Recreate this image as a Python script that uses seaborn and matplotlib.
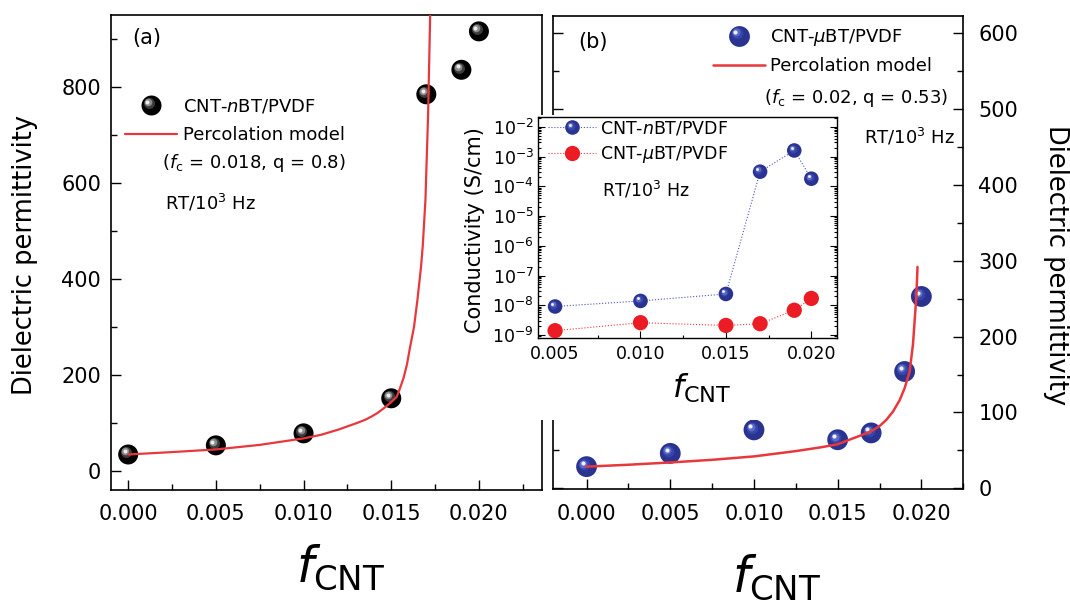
import numpy as np
import matplotlib
matplotlib.use('Agg')
import matplotlib.pyplot as plt
import matplotlib.transforms as mtransforms
from matplotlib.lines import Line2D
from matplotlib.legend_handler import HandlerTuple, HandlerLine2D
from matplotlib.patches import Rectangle
from matplotlib.ticker import MultipleLocator, LogLocator, NullFormatter
import seaborn as sns

# (a) CNT-nBT/PVDF, dielectric permittivity at RT / 1 kHz
f_nbt = [0.000, 0.005, 0.010, 0.015, 0.017, 0.019, 0.020]
eps_nbt = [34, 53, 78, 151, 784, 835, 915]
# percolation model curve
fit_a_f = [0.000, 0.0025, 0.005, 0.0075, 0.010, 0.011, 0.012, 0.013, 0.0135, 0.01385,
           0.0142, 0.0146, 0.0150, 0.01531, 0.0155, 0.0157, 0.0159, 0.01604, 0.0163,
           0.01649, 0.0167, 0.0168, 0.01695, 0.0171, 0.01722]
fit_a_eps = [34, 39, 44.5, 54, 67.5, 75, 86, 99, 106, 112.5,
             120, 131, 143, 154, 172, 193, 222, 251, 300,
             355, 425, 470, 564, 740, 949]

# (b) CNT-uBT/PVDF
f_ubt = [0.000, 0.005, 0.010, 0.015, 0.017, 0.019, 0.020]
eps_ubt = [28.5, 46, 77, 64, 73, 154, 253]
fit_b_f = [0.000, 0.0025, 0.005, 0.0075, 0.010, 0.0125, 0.014, 0.015, 0.0157, 0.0163,
           0.0170, 0.0175, 0.0179, 0.0183, 0.0187, 0.0190, 0.0193, 0.0195, 0.0197, 0.01977]
fit_b_eps = [28.5, 31, 34, 37.5, 42, 49, 54, 58, 64, 69,
             75, 82, 90, 101, 116, 132, 154, 190, 253, 292]

# inset: conductivity (S/cm)
f_cond = [0.005, 0.010, 0.015, 0.017, 0.019, 0.020]
sigma_nbt = [9.1e-9, 1.4e-8, 2.4e-8, 3.1e-4, 1.6e-3, 1.8e-4]
sigma_ubt = [1.4e-9, 2.6e-9, 2.1e-9, 2.4e-9, 6.8e-9, 1.7e-8]

RED = '#e8383d'
BLUE = '#2a3490'
BLACK_SPHERE = ['#000000', '#3c3c3c', '#8a8a8a', '#ececec']
BLUE_SPHERE = [BLUE, '#3645a8', '#5c6ac8', '#eef0ff']
# highlight layers: (size fraction, up-left shift fraction)
SHADE = [(0.55, 0.11), (0.38, 0.15), (0.2, 0.18)]

sns.set_style('ticks')
plt.rcParams['font.family'] = ['DejaVu Sans']
plt.rcParams['mathtext.fontset'] = 'dejavusans'
plt.rcParams['axes.linewidth'] = 1.2
for key in ['text.color', 'axes.labelcolor', 'axes.edgecolor', 'xtick.color', 'ytick.color']:
    plt.rcParams[key] = 'black'


def spheres(ax, x, y, d, colors, z=3):
    """shaded ball: base disc + smaller lighter discs shifted up-left"""
    sns.scatterplot(x=x, y=y, ax=ax, s=d ** 2, color=colors[0], edgecolor='none',
                    linewidth=0, zorder=z, legend=False)
    for (frac, off), c in zip(SHADE, colors[1:]):
        tr = mtransforms.offset_copy(ax.transData, fig=ax.figure, x=-off * d, y=off * d, units='points')
        ax.scatter(x, y, s=(frac * d) ** 2, color=c, linewidths=0, transform=tr, zorder=z + 0.1)


class ShiftedMarker(HandlerLine2D):
    """legend marker moved by (dx, dy) points"""
    def __init__(self, dx, dy, **kw):
        super().__init__(**kw)
        self.dx, self.dy = dx, dy

    def create_artists(self, legend, orig_handle, xdescent, ydescent, width, height, fontsize, trans):
        arts = super().create_artists(legend, orig_handle, xdescent, ydescent, width, height,
                                      fontsize, trans)
        for a in arts:
            a.set_xdata(np.asarray(a.get_xdata()) + self.dx)
            a.set_ydata(np.asarray(a.get_ydata()) + self.dy)
        return arts


handler_map = {tuple: HandlerTuple(ndivide=1)}


def sphere_handle(d, colors, ls='', lw=0, line_color=None):
    base = Line2D([], [], color=line_color or colors[0], marker='o', ms=d, mfc=colors[0],
                  ls=ls, lw=lw, mew=0)
    parts = [base]
    for (frac, off), c in zip(SHADE, colors[1:]):
        hi = Line2D([], [], color=c, marker='o', ms=d * frac, ls='', mew=0)
        handler_map[hi] = ShiftedMarker(-off * d, off * d)
        parts.append(hi)
    return tuple(parts)


fig = plt.figure(figsize=(10.7, 6.04), dpi=100)
ax_a = fig.add_axes([0.1034, 0.1887, 0.4032, 0.7864])
ax_b = fig.add_axes([0.5169, 0.1904, 0.3833, 0.7831])

# ---------- panel (a)
spheres(ax_a, f_nbt, eps_nbt, 14.4, BLACK_SPHERE)
sns.lineplot(x=fit_a_f, y=fit_a_eps, ax=ax_a, color=RED, lw=1.6, sort=False,
             estimator=None, zorder=5)
ax_a.set_xlim(-0.001, 0.0236)
ax_a.set_ylim(-40, 949)
ax_a.xaxis.set_major_locator(MultipleLocator(0.005))
ax_a.xaxis.set_minor_locator(MultipleLocator(0.0025))
ax_a.yaxis.set_major_locator(MultipleLocator(200))
ax_a.yaxis.set_minor_locator(MultipleLocator(100))
ax_a.xaxis.set_major_formatter(plt.FormatStrFormatter('%.3f'))
ax_a.tick_params(which='both', direction='in', top=False, right=False, width=1, labelsize=15)
ax_a.tick_params(which='major', length=7)
ax_a.tick_params(which='minor', length=4)
ax_a.tick_params(axis='x', pad=10)
ax_a.tick_params(axis='y', pad=7)
ax_a.set_xlabel('$f_{\\mathrm{CNT}}$', fontsize=35)
ax_a.xaxis.set_label_coords(0.534, -0.11)
ax_a.set_ylabel('Dielectric permittivity', fontsize=18.5)
ax_a.yaxis.set_label_coords(-0.168, 0.495)

ax_a.legend([sphere_handle(14.4, BLACK_SPHERE), Line2D([], [], color=RED, lw=1.6)],
            ['CNT-$n$BT/PVDF', 'Percolation model'],
            loc='upper left', bbox_to_anchor=(0.033, 0.826), frameon=False, fontsize=13,
            handlelength=2.9, handletextpad=0.3, labelspacing=0.58, borderpad=0,
            borderaxespad=0, handler_map=handler_map)
ax_a.text(0.119, 0.688, '($f_{\\mathrm{c}}$ = 0.018, q = 0.8)', transform=ax_a.transAxes,
          fontsize=13, va='center', ha='left')
ax_a.text(0.125, 0.604, 'RT/10$^{3}$ Hz', transform=ax_a.transAxes, fontsize=13,
          va='center', ha='left')
ax_a.text(0.0496, 0.952, '(a)', transform=ax_a.transAxes, fontsize=15, va='center', ha='left')

# ---------- panel (b)
spheres(ax_b, f_ubt, eps_ubt, 15, BLUE_SPHERE)
sns.lineplot(x=fit_b_f, y=fit_b_eps, ax=ax_b, color=RED, lw=1.8, sort=False,
             estimator=None, zorder=5)
ax_b.set_xlim(-0.002, 0.0225)
ax_b.set_ylim(-1, 623)
ax_b.xaxis.set_major_locator(MultipleLocator(0.005))
ax_b.xaxis.set_minor_locator(MultipleLocator(0.0025))
ax_b.yaxis.set_major_locator(MultipleLocator(100))
ax_b.yaxis.set_minor_locator(MultipleLocator(50))
ax_b.xaxis.set_major_formatter(plt.FormatStrFormatter('%.3f'))
ax_b.tick_params(which='both', direction='in', top=False, left=True, right=True,
                 labelleft=False, labelright=True, width=1, labelsize=15)
ax_b.tick_params(which='major', length=7)
ax_b.tick_params(which='minor', length=4)
ax_b.tick_params(axis='x', pad=11)
ax_b.tick_params(axis='y', pad=11)
ax_b.set_xlabel('$f_{\\mathrm{CNT}}$', fontsize=35)
ax_b.xaxis.set_label_coords(0.544, -0.135)
ax_b.yaxis.set_label_position('right')
ax_b.set_ylabel('Dielectric permittivity', fontsize=18.5, rotation=270, va='bottom')
ax_b.yaxis.set_label_coords(1.195, 0.474)

ax_b.legend([sphere_handle(15, BLUE_SPHERE), Line2D([], [], color=RED, lw=1.8)],
            ['CNT-$\\mu$BT/PVDF', 'Percolation model'],
            loc='upper left', bbox_to_anchor=(0.389, 0.977), frameon=False, fontsize=13,
            handlelength=2.9, handletextpad=0.3, labelspacing=0.5, borderpad=0,
            borderaxespad=0, handler_map=handler_map)
ax_b.text(0.964, 0.826, '($f_{\\mathrm{c}}$ = 0.02, q = 0.53)', transform=ax_b.transAxes,
          fontsize=13, va='center', ha='right')
ax_b.text(0.981, 0.745, 'RT/10$^{3}$ Hz', transform=ax_b.transAxes, fontsize=13,
          va='center', ha='right')
ax_b.text(0.061, 0.946, '(b)', transform=ax_b.transAxes, fontsize=15, va='center', ha='left')

# ---------- inset: conductivity, with white backing that hides the main frames
fig.add_artist(Rectangle((0.4252, 0.3046), 0.3738, 0.505, transform=fig.transFigure,
                         facecolor='white', edgecolor='none', zorder=4))
ax_i = fig.add_axes([0.5028, 0.4404, 0.2794, 0.3659], zorder=5)
ax_i.set_facecolor('white')
sns.lineplot(x=f_cond, y=sigma_nbt, ax=ax_i, color='#4a55b8', lw=0.8, ls=':',
             estimator=None, sort=False, zorder=2)
sns.lineplot(x=f_cond, y=sigma_ubt, ax=ax_i, color=RED, lw=0.8, ls=':',
             estimator=None, sort=False, zorder=2)
spheres(ax_i, f_cond, sigma_nbt, 10.5, BLUE_SPHERE)
sns.scatterplot(x=f_cond, y=sigma_ubt, ax=ax_i, s=11 ** 2, color='#ec1c24',
                edgecolor='none', linewidth=0, zorder=3, legend=False)
ax_i.set_yscale('log')
ax_i.set_xlim(0.004, 0.0215)
ax_i.set_ylim(10 ** -9.1, 10 ** -1.67)
ax_i.xaxis.set_major_locator(MultipleLocator(0.005))
ax_i.xaxis.set_minor_locator(MultipleLocator(0.0025))
ax_i.xaxis.set_major_formatter(plt.FormatStrFormatter('%.3f'))
ax_i.yaxis.set_major_locator(LogLocator(base=10, numticks=20))
ax_i.yaxis.set_minor_locator(LogLocator(base=10, subs=[2, 3, 4, 5, 6, 7, 8, 9], numticks=20))
ax_i.yaxis.set_minor_formatter(NullFormatter())
ax_i.tick_params(which='both', direction='in', top=False, right=True, width=0.8, labelsize=12.5)
ax_i.tick_params(which='major', length=5)
ax_i.tick_params(which='minor', length=2.5)
ax_i.tick_params(axis='x', pad=5)
ax_i.tick_params(axis='y', pad=3)
for s in ax_i.spines.values():
    s.set_linewidth(1.0)
ax_i.set_xlabel('$f_{\\mathrm{CNT}}$', fontsize=23)
ax_i.xaxis.set_label_coords(0.549, -0.15)
ax_i.set_ylabel('Conductivity (S/cm)', fontsize=15)
ax_i.yaxis.set_label_coords(-0.177, 0.489)

ax_i.legend([sphere_handle(10.5, BLUE_SPHERE, ls=':', lw=0.8, line_color='#4a55b8'),
             Line2D([], [], color=RED, ls=':', lw=0.8, marker='o', ms=11, mfc='#ec1c24', mew=0)],
            ['CNT-$n$BT/PVDF', 'CNT-$\\mu$BT/PVDF'],
            loc='upper left', bbox_to_anchor=(0.033, 0.99), frameon=False, fontsize=12.5,
            handlelength=2.8, handletextpad=0.2, labelspacing=0.38, borderpad=0,
            borderaxespad=0, handler_map=handler_map)
ax_i.text(0.213, 0.670, 'RT/10$^{3}$ Hz', transform=ax_i.transAxes, fontsize=12.5,
          va='center', ha='left')

fig.savefig('out.png', dpi=100)
plt.close(fig)
